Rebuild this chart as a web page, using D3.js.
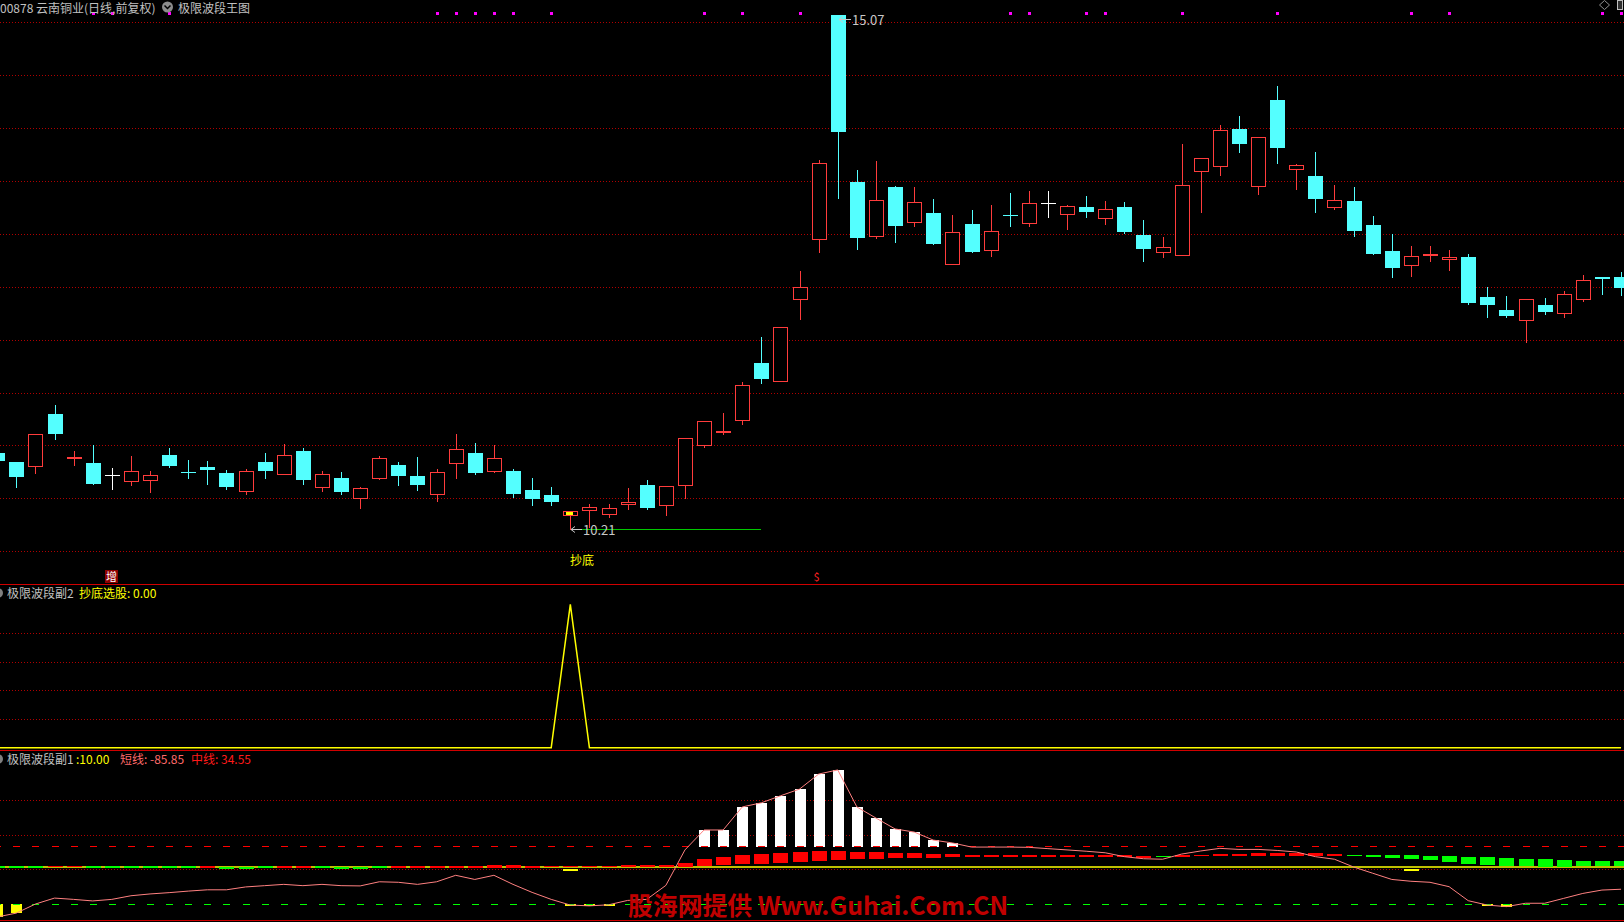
<!DOCTYPE html>
<html><head><meta charset="utf-8">
<script src="https://cdn.jsdelivr.net/npm/d3@7"></script>
<style>
html,body{margin:0;padding:0;background:#000;overflow:hidden}
svg{display:block}
text{font-family:"Noto Sans CJK SC","Noto Sans",sans-serif}
</style>
</head><body>
<svg id="c" width="1624" height="922"></svg>
<script>
// ---------------- DATA ----------------
const opens  = [10.93,10.84,10.81,11.30,10.88,10.83,10.72,10.66,10.67,10.91,
                10.75,10.80,10.74,10.57,10.84,10.73,10.95,10.61,10.69,10.50,
                10.69,10.82,10.71,10.54,10.83,10.93,10.76,10.76,10.58,10.53,
                10.34,10.39,10.35,10.45,10.63,10.44,10.63,11.00,11.13,11.24,
                11.78,11.61,12.38,12.95,15.07,13.49,12.98,13.44,13.11,13.20,
                12.72,13.09,12.85,13.18,13.10,13.29,13.19,13.25,13.15,13.25,
                12.99,12.83,12.80,13.59,13.64,13.99,13.45,14.27,13.61,13.55,
                13.25,13.31,13.08,12.84,12.71,12.80,12.76,12.78,12.40,12.28,
                12.19,12.33,12.25,12.38,12.59,12.59];
const highs  = [10.95,10.84,11.11,11.38,10.95,11.00,10.79,10.90,10.76,10.98,
                10.86,10.85,10.77,10.78,10.93,11.01,10.98,10.76,10.75,10.61,
                10.90,10.84,10.89,10.78,11.11,11.02,11.00,10.78,10.69,10.61,
                10.38,10.45,10.45,10.60,10.67,10.62,11.07,11.23,11.31,11.60,
                12.03,12.12,12.65,13.70,15.07,13.60,13.69,13.45,13.44,13.33,
                13.18,13.23,13.27,13.39,13.41,13.41,13.27,13.36,13.31,13.30,
                13.13,12.97,13.85,13.72,14.03,14.11,13.92,14.40,13.66,13.77,
                13.46,13.44,13.17,13.00,12.89,12.89,12.85,12.81,12.50,12.41,
                12.38,12.39,12.46,12.61,12.59,12.64];
const lows   = [10.83,10.61,10.74,11.06,10.82,10.64,10.59,10.63,10.56,10.80,
                10.69,10.64,10.59,10.54,10.69,10.73,10.64,10.57,10.54,10.41,
                10.68,10.63,10.58,10.48,10.69,10.73,10.75,10.51,10.44,10.44,
                10.21,10.23,10.32,10.40,10.40,10.34,10.50,10.99,11.11,11.20,
                11.59,11.61,12.20,12.83,13.34,12.86,12.96,12.92,13.07,12.90,
                12.72,12.83,12.79,13.07,13.07,13.16,13.05,13.16,13.09,13.01,
                12.74,12.78,12.80,13.21,13.56,13.77,13.38,13.67,13.42,13.21,
                13.24,12.98,12.81,12.59,12.60,12.74,12.66,12.34,12.21,12.21,
                11.98,12.24,12.21,12.37,12.43,12.42];
const closes = [10.85,10.70,11.11,11.11,10.89,10.64,10.72,10.76,10.72,10.81,
                10.74,10.77,10.61,10.76,10.76,10.91,10.67,10.73,10.56,10.60,
                10.88,10.71,10.63,10.75,10.97,10.74,10.88,10.54,10.49,10.47,
                10.38,10.42,10.41,10.47,10.41,10.62,11.07,11.23,11.14,11.57,
                11.63,12.12,12.50,13.67,13.96,12.96,13.32,13.07,13.30,12.90,
                13.02,12.83,13.03,13.17,13.29,13.29,13.26,13.21,13.24,13.02,
                12.86,12.88,13.46,13.72,13.98,13.85,13.92,13.81,13.65,13.33,
                13.32,13.03,12.81,12.68,12.79,12.81,12.78,12.35,12.33,12.22,
                12.38,12.26,12.43,12.56,12.57,12.49];
const priceTicks = [10,10.5,11,11.5,12,12.5,13,13.5,14,14.5,15];
const signalDots = [5,6,9,23,24,25,26,27,29,37,39,42,53,54,57,58,62,67,74,76,84,85];

// sub panel 2 : 抄底选股
const pickSignal = [0,0,0,0,0,0,0,0,0,0, 0,0,0,0,0,0,0,0,0,0, 0,0,0,0,0,0,0,0,0,0,
                    1,0,0,0,0,0,0,0,0,0, 0,0,0,0,0,0,0,0,0,0, 0,0,0,0,0,0,0,0,0,0,
                    0,0,0,0,0,0,0,0,0,0, 0,0,0,0,0,0,0,0,0,0, 0,0,0,0,0,0];
const pickTicks = [0.2,0.4,0.6,0.8];

// sub panel 1 : 短线 / 中线
const shortLine = [-193,-178,-143,-120,-125,-131,-125,-111,-104,-99,
                   -93,-88,-88,-77,-72,-67,-72,-67,-72,-73,
                   -57,-59,-67,-57,-32,-48,-32,-67,-98,-125,
                   -147,-150,-146,-129,-125,-71,66,143,143,232,
                   248,275,301,359,375,232,189,147,135,104,
                   93,77,77,77,76,71,66,61,55,40,
                   32,30,50,62,72,68,68,64,58,40,
                   30,0,-24,-48,-55,-59,-76,-130,-147,-153,
                   -140,-140,-121,-102,-89,-85.85];
const midTop = [4,4,4,4,4,4,4,4,4,4, 2,2,1,1,2,2,2,2,1,1, 2,2,2,2,5,5,9,9,5,5,
                5,4,4,7,8,8,15,31,39,46, 50,54,58,62,62,58,58,54,54,50,
                50,46,46,46,46,46,46,46,46,46, 44,42,46,46,50,50,54,54,54,54,
                50,46,46,46,46,42,42,39,39,35, 31,31,27,23,23,23];
const midBot = [-3,-3,-3,-1,-1,-3,-3,-3,-3,-3, -2,-2,-7,-7,-2,-2,-2,-2,-7,-7,
                -2,-2,-2,-2,-3,-3,-3,-3,-3,0, 0,-1,-1,0,0,0,0,4,8,12,
                12,15,19,23,27,31,31,35,35,35, 39,39,39,39,39,39,39,39,39,39,
                36,40,39,44,42,42,42,42,42,42, 42,44,39,35,31,27,19,12,8,4,
                4,0,0,4,4,4];
const midColor = ["gggrrggggg","grgggrrggg","grrrrrrrrr","rrrrrrrrrr","rrrrrrrrrr",
                  "rrrrrrrrrr","rgrrrrrrrr","rggggggggg","gggggg"].join("");
const buyMarks = [30, 74];
const levelHigh = 80, levelZero = 0, levelLow = -144;
const grid3 = [257.6, 122.4, -7.7];

// ---------------- SCALES ----------------
const W = 1624, N = opens.length;
const svg = d3.select("#c");
const x = d3.scaleBand().domain(d3.range(N)).range([-12.35, 1630.6]).paddingInner(0.2).paddingOuter(0.1);
const cxf = i => x(i) + x.bandwidth() / 2;
const cx = i => Math.round(cxf(i));
const y = d3.scaleLinear().domain([10, 15]).range([551.3, 22.3]);
const y2 = d3.scaleLinear().domain([0, 1]).range([747.7, 604.3]);
const y3 = d3.scaleLinear().domain([levelLow, levelHigh]).range([904.3, 846.3]);

const RED = "#ff3c3c", CYAN = "#54ffff", GRID = "#b00000";

// ---------------- GRIDLINES ----------------
const grid = svg.append("g").attr("shape-rendering", "crispEdges");
const allGrid = priceTicks.map(y).concat(pickTicks.map(y2)).concat(grid3.map(y3));
grid.selectAll("line").data(allGrid).join("line")
  .attr("x1", 0).attr("x2", W)
  .attr("y1", d => Math.round(d) + 0.5).attr("y2", d => Math.round(d) + 0.5)
  .attr("stroke", GRID).attr("stroke-dasharray", "1,2");

// separators
svg.append("g").attr("shape-rendering", "crispEdges").selectAll("line")
  .data([584, 750, 920]).join("line")
  .attr("x1", 0).attr("x2", W).attr("y1", d => d + 0.5).attr("y2", d => d + 0.5)
  .attr("stroke", "#d00000").attr("stroke-width", 1);

// ---------------- CANDLES ----------------
const candles = d3.range(N).map(i => ({i, o: opens[i], h: highs[i], l: lows[i], c: closes[i]}));
const col = d => d.c > d.o ? RED : d.c < d.o ? CYAN : "#ffffff";
const cg = svg.append("g").attr("shape-rendering", "crispEdges");
cg.selectAll("line.wick").data(candles).join("line").attr("class", "wick")
  .attr("x1", d => cx(d.i) + 0.5).attr("x2", d => cx(d.i) + 0.5)
  .attr("y1", d => Math.round(y(d.h))).attr("y2", d => Math.round(y(d.l)) + 1)
  .attr("stroke", col);
candles.forEach(d => {
  const top = Math.round(y(Math.max(d.o, d.c))), bot = Math.round(y(Math.min(d.o, d.c)));
  const X = cx(d.i);
  if (d.c > d.o) {
    cg.append("rect").attr("x", X - 7 + 0.5).attr("y", top + 0.5).attr("width", 14)
      .attr("height", Math.max(bot - top, 1)).attr("fill", "#000").attr("stroke", RED);
  } else if (d.c < d.o) {
    cg.append("rect").attr("x", X - 7).attr("y", top).attr("width", 15)
      .attr("height", Math.max(bot - top, 1)).attr("fill", CYAN);
  } else {
    cg.append("line").attr("x1", X - 7).attr("x2", X + 8).attr("y1", top + 0.5).attr("y2", top + 0.5)
      .attr("stroke", "#fff");
  }
});
// yellow fill inside the 抄底 candle
{
  const d = candles[buyMarks[0]];
  const top = Math.round(y(d.c)), X = cx(d.i);
  cg.append("rect").attr("x", X - 4).attr("y", top + 1).attr("width", 7).attr("height", 3).attr("fill", "#ffff00");
}

// magenta signal dots
svg.append("g").attr("shape-rendering", "crispEdges").selectAll("rect").data(signalDots).join("rect")
  .attr("x", i => cx(i) - 1).attr("y", 12).attr("width", 3).attr("height", 3).attr("fill", "#ff00ff");

// high / low labels
const hiIdx = d3.maxIndex(highs), loIdx = d3.minIndex(lows);
const labelG = svg.append("g");
{
  const X = cx(hiIdx), Y = Math.round(y(highs[hiIdx]));
  labelG.append("path").attr("d", `M${X+1},${Y+4.5}l4,-3 M${X+1},${Y+4.5}l4,3 M${X+1},${Y+4.5}H${X+13}`)
    .attr("stroke", "#c8c8c8").attr("fill", "none");
  labelG.append("text").attr("x", X + 14).attr("y", Y + 10).attr("font-size", 13).attr("fill", "#c8c8c8")
    .text(highs[hiIdx].toFixed(2));
}
{
  const X = cx(loIdx), Y = Math.round(y(lows[loIdx])) + 0.5;
  labelG.append("line").attr("x1", X + 12).attr("x2", cx(loIdx + 10)).attr("y1", Y).attr("y2", Y)
    .attr("stroke", "#00c800").attr("shape-rendering", "crispEdges");
  labelG.append("path").attr("d", `M${X+1},${Y}l4,-3 M${X+1},${Y}l4,3 M${X+1},${Y}H${X+12}`)
    .attr("stroke", "#c8c8c8").attr("fill", "none");
  labelG.append("text").attr("x", X + 13).attr("y", Y + 5).attr("font-size", 13).attr("fill", "#c8c8c8")
    .text(lows[loIdx].toFixed(2));
  labelG.append("text").attr("x", X).attr("y", 565).attr("font-size", 12).attr("fill", "#ffff00").text("抄底");
}
// 增 tag
svg.append("rect").attr("x", cx(6) - 7).attr("y", 570).attr("width", 13).attr("height", 13).attr("fill", "#8b0000");
svg.append("text").attr("x", cx(6) - 0.5).attr("y", 581).attr("text-anchor", "middle").attr("font-size", 11)
  .attr("fill", "#fff").text("增");
svg.append("text").attr("x", 816.5).attr("y", 581).attr("text-anchor", "middle").attr("font-size", 11)
  .attr("fill", "#ff2020").text("$");

// ---------------- SUB PANEL 2 ----------------
svg.append("path").datum(pickSignal)
  .attr("d", d3.line().x((d, i) => cxf(i)).y(d => y2(d)))
  .attr("fill", "none").attr("stroke", "#ffff00").attr("stroke-width", 1.5);

// ---------------- SUB PANEL 3 ----------------
const g3 = svg.append("g");
g3.append("line").attr("x1", 0).attr("x2", W).attr("y1", y3(levelZero)).attr("y2", y3(levelZero))
  .attr("stroke", "#ffff00").attr("stroke-width", 1.5);
g3.selectAll("rect.mid").data(d3.range(N)).join("rect").attr("class", "mid")
  .attr("shape-rendering", "crispEdges")
  .attr("x", i => cx(i) - 7).attr("width", 15)
  .attr("y", i => Math.round(y3(midTop[i])))
  .attr("height", i => Math.max(1, Math.round(y3(midBot[i])) - Math.round(y3(midTop[i]))))
  .attr("fill", i => midColor[i] === "r" ? "#ff0000" : "#00ff00");
const upIdx = d3.range(N).filter(i => shortLine[i] > levelHigh);
g3.selectAll("rect.up").data(upIdx).join("rect").attr("class", "up")
  .attr("shape-rendering", "crispEdges")
  .attr("x", i => cx(i) - 5).attr("width", 11)
  .attr("y", i => Math.round(y3(shortLine[i])))
  .attr("height", i => Math.round(y3(levelHigh)) - Math.round(y3(shortLine[i])) + 1)
  .attr("fill", "#ffffff");
const dnIdx = d3.range(N).filter(i => shortLine[i] < levelLow);
g3.selectAll("rect.dn").data(dnIdx).join("rect").attr("class", "dn")
  .attr("shape-rendering", "crispEdges")
  .attr("x", i => cx(i) - 5).attr("width", 11)
  .attr("y", Math.round(y3(levelLow)))
  .attr("height", i => Math.max(2, Math.round(y3(shortLine[i])) - Math.round(y3(levelLow))))
  .attr("fill", "#ffff00");
g3.selectAll("rect.buy").data(buyMarks).join("rect").attr("class", "buy")
  .attr("x", i => cx(i) - 7).attr("width", 15).attr("y", Math.round(y3(levelZero)) + 2).attr("height", 2)
  .attr("fill", "#ffff00");
[[levelHigh, "#ff0000"], [levelLow, "#00ff00"]].forEach(([lv, c]) => {
  g3.append("g").attr("shape-rendering", "crispEdges").selectAll("line").data(d3.range(N)).join("line")
    .attr("x1", i => cx(i) - 3).attr("x2", i => cx(i) + 4)
    .attr("y1", Math.round(y3(lv)) + 0.5).attr("y2", Math.round(y3(lv)) + 0.5)
    .attr("stroke", c).attr("stroke-width", 1.5);
});
g3.append("path").datum(shortLine)
  .attr("d", d3.line().x((d, i) => cxf(i)).y(d => y3(d)))
  .attr("fill", "none").attr("stroke", "#ff8080").attr("stroke-width", 1);

// watermark
svg.append("text").attr("x", 628).attr("y", 915).attr("font-size", 25).attr("font-weight", "bold")
  .attr("fill", "#c00000").attr("textLength", 380).attr("lengthAdjust", "spacingAndGlyphs")
  .text("股海网提供 Www.Guhai.Com.CN");

// ---------------- HEADERS ----------------
const hd = svg.append("g").attr("font-size", 12);
hd.append("text").attr("x", 0).attr("y", 13).attr("fill", "#c0c0c0").text("00878 云南铜业(日线,前复权)");
hd.append("circle").attr("cx", 167.5).attr("cy", 7).attr("r", 5.5).attr("fill", "#8c8c8c");
hd.append("path").attr("d", "M164.5,5.5 L167.5,8.5 L170.5,5.5").attr("stroke", "#000").attr("stroke-width", 1.5).attr("fill", "none");
hd.append("text").attr("x", 178).attr("y", 13).attr("fill", "#c0c0c0").text("极限波段王图");
hd.append("path").attr("d", "M1604.5,0.5 L1609.5,5 L1604.5,9.5 L1599.5,5 Z").attr("stroke", "#909090").attr("fill", "none");
hd.append("rect").attr("x", 1617.5).attr("y", 0.5).attr("width", 5).attr("height", 9).attr("stroke", "#c0c0c0").attr("fill", "#303030");

hd.append("circle").attr("cx", -2).attr("cy", 593).attr("r", 5).attr("fill", "#808080");
hd.append("text").attr("x", 7).attr("y", 598).attr("fill", "#c0c0c0").text("极限波段副2");
hd.append("text").attr("x", 79).attr("y", 598).attr("fill", "#ffff00")
  .text("抄底选股: " + pickSignal[N - 1].toFixed(2));

hd.append("circle").attr("cx", -2).attr("cy", 759).attr("r", 5).attr("fill", "#808080");
hd.append("text").attr("x", 7).attr("y", 764).attr("fill", "#c0c0c0").text("极限波段副1");
hd.append("text").attr("x", 76).attr("y", 764).attr("fill", "#ffff00").text(" :10.00");
hd.append("text").attr("x", 120).attr("y", 764).attr("fill", "#ff6a6a")
  .text("短线: " + shortLine[N - 1].toFixed(2));
hd.append("text").attr("x", 191).attr("y", 764).attr("fill", "#ff1a1a").text("中线: 34.55");
</script>
</body></html>
